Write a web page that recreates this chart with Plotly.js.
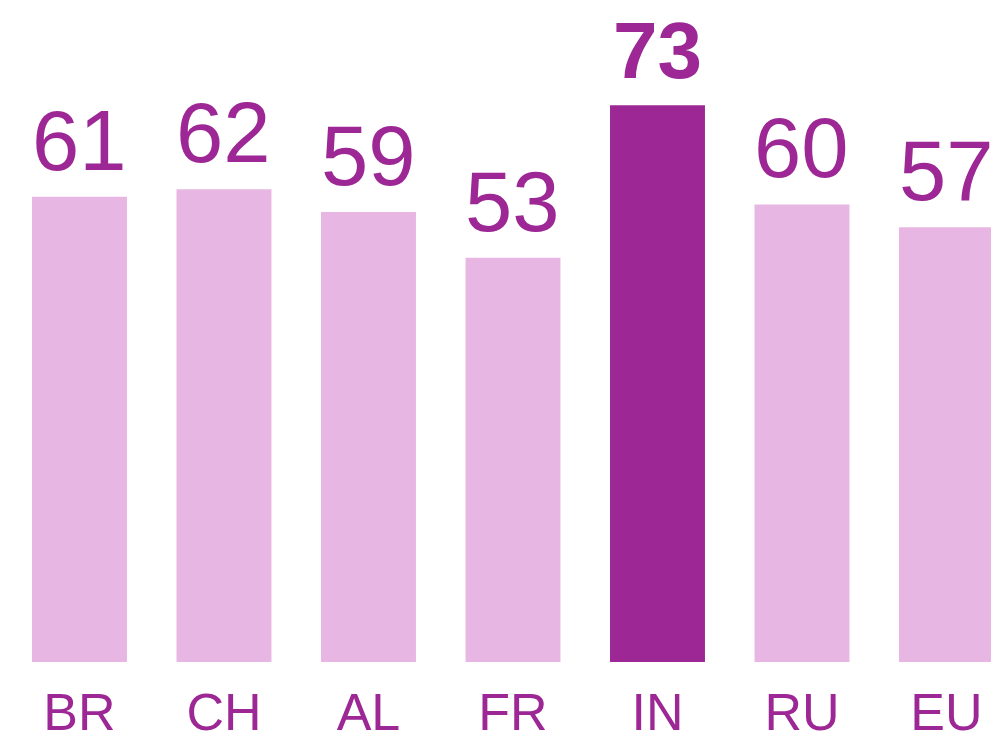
<!DOCTYPE html>
<html>
<head>
<meta charset="utf-8">
<script src="https://cdn.plot.ly/plotly-3.0.1.min.js"></script>
<style>html,body{margin:0;padding:0;background:#fff;overflow:hidden}#chart{width:991px;height:736px}</style>
</head>
<body>
<div id="chart"></div>
<script>
const categories = ["BR", "CH", "AL", "FR", "IN", "RU", "EU"];
const values = [61, 62, 59, 53, 73, 60, 57];
const highlight = "IN";

const light = "#E8B6E2";
const dark = "#9C2795";

const colors = categories.map(c => c === highlight ? dark : light);

const annotations = categories.map((c, i) => ({
  x: c, y: values[i], xref: "x", yref: "y",
  text: c === highlight ? "<b>" + values[i] + "</b>" : String(values[i]),
  showarrow: false, yanchor: "bottom", yshift: c === highlight ? 8 : 7,
  font: {family: "Liberation Sans, Arial, sans-serif", size: c === highlight ? 80 : 85, color: dark}
}));

Plotly.newPlot("chart", [{
  type: "bar", x: categories, y: values,
  marker: {color: colors}, hoverinfo: "none"
}], {
  width: 991, height: 736,
  margin: {l: 0, r: 0, t: 0, b: 74},
  paper_bgcolor: "#fff", plot_bgcolor: "#fff",
  bargap: 0.343,
  showlegend: false,
  xaxis: {
    type: "category", range: [-0.55, 6.308], fixedrange: true,
    showgrid: false, zeroline: false, showline: false, ticks: "",
    tickfont: {family: "Liberation Sans, Arial, sans-serif", size: 52, color: dark},
    ticklabelstandoff: 15
  },
  yaxis: {
    range: [0, 86.8], visible: false, showgrid: false, zeroline: false, fixedrange: true
  },
  annotations: annotations
}, {displayModeBar: false, staticPlot: true});
</script>
</body>
</html>
